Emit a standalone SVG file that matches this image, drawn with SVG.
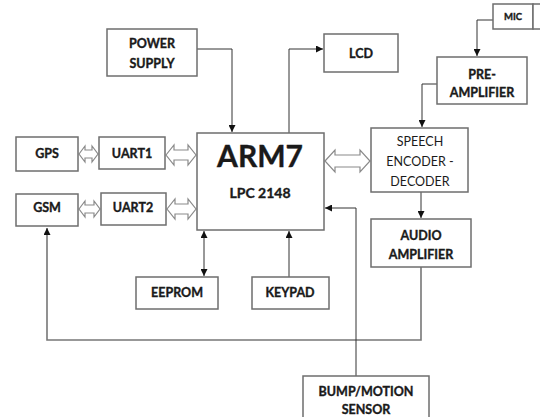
<svg xmlns="http://www.w3.org/2000/svg" width="540" height="417" viewBox="0 0 540 417">
<defs>
<style>
.box{fill:#fff;stroke:#6e6e6e;stroke-width:1.5}
.t{font-family:Lato,"Open Sans",sans-serif;font-weight:bold;font-size:12.5px;fill:#1a1a1a;stroke:#1a1a1a;stroke-width:0.35;text-anchor:middle}
.r{font-family:Lato,"Open Sans",sans-serif;font-size:12.5px;fill:#1a1a1a;text-anchor:middle}
.ln{fill:none;stroke:#333;stroke-width:1}
.gl{fill:none;stroke:#777;stroke-width:1.6}
.da{fill:#fff;stroke:#8a8a8a;stroke-width:1.2}
</style>
<marker id="ah" viewBox="0 0 10 10" refX="10" refY="5" markerWidth="7" markerHeight="7" markerUnits="userSpaceOnUse" orient="auto">
<path d="M0,0 L10,5 L0,10 Z" fill="#111"/>
</marker>
</defs>

<g id="connectors">
<path class="ln" d="M197,49 H232 V132" marker-end="url(#ah)"/>
<path class="ln" d="M289,133 V49 H323" marker-end="url(#ah)"/>
<path class="ln" d="M493,20 H477 V56" marker-end="url(#ah)"/>
<path class="ln" d="M437,84 H422 V127" marker-end="url(#ah)"/>
<path class="ln" d="M421,192 V218" marker-end="url(#ah)"/>
<path class="gl" d="M421,267 V340 H47 V228" marker-end="url(#ah)"/>
<path class="ln" d="M204,256 V231" marker-end="url(#ah)"/>
<path class="ln" d="M204,256 V276" marker-end="url(#ah)"/>
<path class="ln" d="M289,277 V231" marker-end="url(#ah)"/>
<path class="ln" d="M356,376 V208 H325" marker-end="url(#ah)"/>
<path class="da" d="M79,154 L85,146 L85,150 L92,150 L92,146 L98,154 L92,162 L92,158 L85,158 L85,162 Z"/>
<path class="da" d="M166,155 L174,145 L174,150 L188,150 L188,145 L196,155 L188,165 L188,160 L174,160 L174,165 Z"/>
<path class="da" d="M79,209 L85,201 L85,205 L94,205 L94,201 L100,209 L94,217 L94,213 L85,213 L85,217 Z"/>
<path class="da" d="M167,209 L175,199 L175,204 L188,204 L188,199 L196,209 L188,219 L188,214 L175,214 L175,219 Z"/>
<path class="da" d="M325,161 L335,150 L335,155 L360,155 L360,150 L370,161 L360,172 L360,167 L335,167 L335,172 Z"/>
</g>

<g id="power"><rect class="box" x="107" y="29" width="90" height="47"/><text class="t" x="152" y="48">POWER</text><text class="t" x="152" y="68">SUPPLY</text></g>
<g id="lcd"><rect class="box" x="324" y="34" width="74" height="38"/><text class="t" x="361" y="58">LCD</text></g>
<g id="mic"><rect class="box" x="493" y="4" width="40" height="25"/><rect class="box" x="533" y="4" width="12" height="25"/><text class="t" x="513" y="20" style="font-size:9.5px">MIC</text></g>
<g id="preamp"><rect class="box" x="437" y="57" width="90" height="47"/><text class="t" x="482" y="79">PRE-</text><text class="t" x="482" y="97">AMPLIFIER</text></g>
<g id="arm"><rect class="box" x="197" y="133" width="127" height="97"/><text class="t" x="260" y="167" style="font-size:30px">ARM7</text><text class="t" x="260" y="198" style="font-size:14px">LPC 2148</text></g>
<g id="speech"><rect class="box" x="371" y="128" width="97" height="64"/><text class="r" x="420" y="146">SPEECH</text><text class="r" x="420" y="166">ENCODER -</text><text class="r" x="420" y="186">DECODER</text></g>
<g id="audio"><rect class="box" x="371" y="219" width="100" height="48"/><text class="t" x="421" y="240">AUDIO</text><text class="t" x="421" y="259">AMPLIFIER</text></g>
<g id="gps"><rect class="box" x="16" y="137" width="62" height="34"/><text class="t" x="47" y="158">GPS</text></g>
<g id="uart1"><rect class="box" x="99" y="137" width="66" height="32"/><text class="t" x="132" y="158">UART1</text></g>
<g id="gsm"><rect class="box" x="16" y="194" width="62" height="32"/><text class="t" x="47" y="212">GSM</text></g>
<g id="uart2"><rect class="box" x="101" y="193" width="65" height="32"/><text class="t" x="133" y="212">UART2</text></g>
<g id="eeprom"><rect class="box" x="136" y="277" width="82" height="32"/><text class="t" x="177" y="297">EEPROM</text></g>
<g id="keypad"><rect class="box" x="252" y="277" width="77" height="32"/><text class="t" x="290" y="297">KEYPAD</text></g>
<g id="sensor"><rect class="box" x="303" y="376" width="126" height="50"/><text class="t" x="366" y="396">BUMP/MOTION</text><text class="t" x="366" y="414">SENSOR</text></g>
</svg>
